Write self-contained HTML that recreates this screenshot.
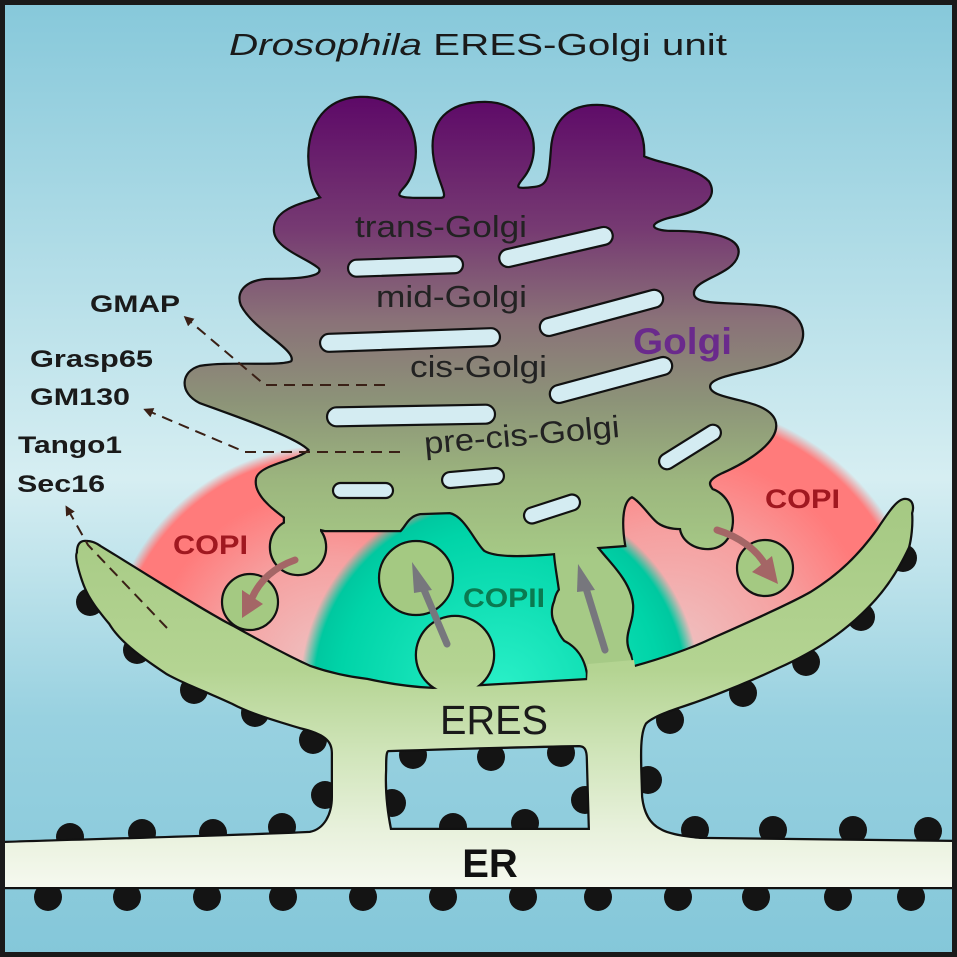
<!DOCTYPE html>
<html><head><meta charset="utf-8"><style>
html,body{margin:0;padding:0;background:#fff}
svg{display:block}
text{font-family:"Liberation Sans",Arial,sans-serif}
</style></head><body>
<svg width="957" height="957" viewBox="0 0 957 957" xmlns="http://www.w3.org/2000/svg">
<defs>
<linearGradient id="bg" x1="0" y1="0" x2="0" y2="957" gradientUnits="userSpaceOnUse">
<stop offset="0" stop-color="#86c8da"/><stop offset="0.5" stop-color="#d6eef2"/><stop offset="0.75" stop-color="#98d1e0"/><stop offset="1" stop-color="#84c7d9"/>
</linearGradient>
<linearGradient id="gg" x1="0" y1="100" x2="0" y2="560" gradientUnits="userSpaceOnUse">
<stop offset="0" stop-color="#5e0a68"/><stop offset="0.28" stop-color="#763a72"/><stop offset="0.48" stop-color="#8a7278"/><stop offset="0.65" stop-color="#8c9278"/><stop offset="0.83" stop-color="#9cb67e"/><stop offset="1" stop-color="#a6ca86"/>
</linearGradient>
<linearGradient id="eg" x1="0" y1="490" x2="0" y2="890" gradientUnits="userSpaceOnUse">
<stop offset="0" stop-color="#a4c882"/><stop offset="0.45" stop-color="#b4d492"/><stop offset="0.65" stop-color="#cfe4b8"/><stop offset="0.85" stop-color="#e8f1dc"/><stop offset="1" stop-color="#f6f9f0"/>
</linearGradient>
<radialGradient id="rl" cx="330" cy="670" r="225" gradientUnits="userSpaceOnUse">
<stop offset="0" stop-color="#eec4c4"/><stop offset="0.5" stop-color="#f6a0a0"/><stop offset="0.8" stop-color="#ff7b7b"/><stop offset="0.95" stop-color="#ff7b7b"/><stop offset="1" stop-color="#ff7b7b" stop-opacity="0"/>
</radialGradient>
<radialGradient id="rr" cx="670" cy="660" r="260" gradientUnits="userSpaceOnUse">
<stop offset="0" stop-color="#eec4c4"/><stop offset="0.5" stop-color="#f6a0a0"/><stop offset="0.8" stop-color="#ff7b7b"/><stop offset="0.95" stop-color="#ff7b7b"/><stop offset="1" stop-color="#ff7b7b" stop-opacity="0"/>
</radialGradient>
<radialGradient id="cy" cx="500" cy="690" r="200" gradientUnits="userSpaceOnUse">
<stop offset="0" stop-color="#2af0c8"/><stop offset="0.8" stop-color="#00d4a8"/><stop offset="0.93" stop-color="#00c8a0"/><stop offset="1" stop-color="#00c8a0" stop-opacity="0"/>
</radialGradient>
<clipPath id="above">
<path d="M0 0 L957 0 L957 500 L905 500 C898 500,890 512,878 530 C860 555,840 575,811 593 C790 605,745 625,711 640 C690 650,660 660,635 667 L590 680 L433 689 C410 688,390 685,367 680 C350 678,330 674,310 667 C290 658,260 642,233 627 C200 610,130 565,100 547 C97 545,93 542,85 542 L0 542 Z"/>
</clipPath>
<marker id="ah" markerWidth="10" markerHeight="10" refX="7" refY="5" orient="auto" markerUnits="userSpaceOnUse"><path d="M0,0 L10,5 L0,10 Z" fill="#3a2016"/></marker>
</defs>

<rect x="0" y="0" width="957" height="957" fill="url(#bg)"/>

<!-- halos -->
<g clip-path="url(#above)">
<circle cx="330" cy="670" r="225" fill="url(#rl)"/>
<circle cx="670" cy="660" r="260" fill="url(#rr)"/>
<circle cx="500" cy="690" r="200" fill="url(#cy)"/>
</g>

<!-- dots -->
<g fill="#141414">
<circle cx="90" cy="602" r="14"/><circle cx="137" cy="650" r="14"/><circle cx="194" cy="690" r="14"/><circle cx="255" cy="713" r="14"/><circle cx="313" cy="740" r="14"/><circle cx="325" cy="795" r="14"/>
<circle cx="70" cy="837" r="14"/><circle cx="142" cy="833" r="14"/><circle cx="213" cy="833" r="14"/><circle cx="282" cy="827" r="14"/>
<circle cx="413" cy="755" r="14"/><circle cx="491" cy="757" r="14"/><circle cx="561" cy="753" r="14"/><circle cx="392" cy="803" r="14"/><circle cx="585" cy="800" r="14"/><circle cx="453" cy="827" r="14"/><circle cx="525" cy="823" r="14"/>
<circle cx="648" cy="780" r="14"/><circle cx="695" cy="830" r="14"/><circle cx="773" cy="830" r="14"/><circle cx="853" cy="830" r="14"/><circle cx="928" cy="831" r="14"/>
<circle cx="670" cy="720" r="14"/><circle cx="743" cy="693" r="14"/><circle cx="806" cy="662" r="14"/><circle cx="861" cy="617" r="14"/><circle cx="903" cy="558" r="14"/>
<circle cx="48" cy="897" r="14"/><circle cx="127" cy="897" r="14"/><circle cx="207" cy="897" r="14"/><circle cx="283" cy="897" r="14"/><circle cx="363" cy="897" r="14"/><circle cx="443" cy="897" r="14"/><circle cx="523" cy="897" r="14"/><circle cx="598" cy="897" r="14"/><circle cx="678" cy="897" r="14"/><circle cx="756" cy="897" r="14"/><circle cx="838" cy="897" r="14"/><circle cx="911" cy="897" r="14"/>
</g>

<g stroke="#111" stroke-width="4.5" fill="#111">
 <path d="M322 198 C302 175,300 100,360 98 C420 96,425 165,402 188 C394 197,398 199,420 199 L440 199 C452 199,440 185,435 160 C428 120,450 103,485 103 C530 103,545 150,522 178 C512 190,518 190,535 188 C550 186,550 175,552 150 C554 118,572 106,597 106 C628 106,645 128,643 157 C660 165,695 168,708 182 C718 198,700 210,672 216 C645 222,648 232,672 232 C710 232,742 238,737 255 C732 275,690 278,693 295 C696 308,735 302,775 308 C805 314,810 340,790 356 C765 372,700 372,710 390 C718 402,765 400,774 420 C782 440,745 462,722 472 C705 480,708 485,712 490 C740 500,738 548,708 548 C692 548,682 538,681 528 C672 528,662 526,656 520 C648 512,640 500,632 496 C622 500,620 520,624 545 L597 547 L555 553 C520 556,495 556,485 550 C475 540,465 515,450 512 L420 513 C408 515,405 525,400 530 L325 530 L292 522 C275 510,255 495,257 480 C258 465,300 462,310 450 C300 438,250 420,200 402 C180 392,182 372,200 367 C230 362,280 368,292 362 C300 350,255 330,242 305 C236 290,250 280,270 280 C300 280,325 278,320 268 C310 258,275 248,275 230 C275 210,300 205,322 198 Z"/>
 <path d="M555 550 L595 545 C605 560,630 580,632 605 C633 625,620 635,630 655 L638 700 L588 700 L588 673 C585 655,575 645,565 640 C552 625,552 600,560 590 C558 575,555 560,555 550 Z"/>
 <circle cx="578" cy="612" r="25"/>
 <circle cx="298" cy="547" r="27"/>
 <rect x="285" y="505" width="35" height="30"/>
 <path d="M85 542 C93 542,97 545,100 547 C130 565,200 610,233 627 C260 642,290 658,310 667 C330 674,350 678,367 680 C390 685,410 688,433 689 L590 680 L635 667 C660 660,690 650,711 640 C745 625,790 605,811 593 C840 575,860 555,878 530 C890 512,898 500,905 500 C912 500,913 507,911 513 C912 525,910 540,908 547 C895 575,880 595,861 613 C835 638,805 655,778 667 C740 685,700 700,678 707 C660 713,650 718,645 723 C638 735,640 760,641 797 C643 815,650 825,660 830 C670 836,690 838,700 839 L952 842 L952 887 L5 887 L5 843 C100 840,250 836,310 833 C325 830,333 815,333 797 L333 753 C333 740,325 733,300 727 C270 718,250 712,233 703 C205 690,185 683,167 673 C140 655,120 640,110 623 C95 605,88 595,83 580 C78 565,76 555,78 553 C78 546,80 542,85 542 Z M388 750 C450 748,520 746,578 745 C585 745,588 748,588 760 L590 830 L390 830 C386 810,384 790,385 770 C385 758,385 751,388 750 Z" fill-rule="evenodd"/>
 <circle cx="455" cy="655" r="38"/>
</g>
<g fill="url(#eg)" stroke="none">
 <path d="M85 542 C93 542,97 545,100 547 C130 565,200 610,233 627 C260 642,290 658,310 667 C330 674,350 678,367 680 C390 685,410 688,433 689 L590 680 L635 667 C660 660,690 650,711 640 C745 625,790 605,811 593 C840 575,860 555,878 530 C890 512,898 500,905 500 C912 500,913 507,911 513 C912 525,910 540,908 547 C895 575,880 595,861 613 C835 638,805 655,778 667 C740 685,700 700,678 707 C660 713,650 718,645 723 C638 735,640 760,641 797 C643 815,650 825,660 830 C670 836,690 838,700 839 L952 842 L952 887 L5 887 L5 843 C100 840,250 836,310 833 C325 830,333 815,333 797 L333 753 C333 740,325 733,300 727 C270 718,250 712,233 703 C205 690,185 683,167 673 C140 655,120 640,110 623 C95 605,88 595,83 580 C78 565,76 555,78 553 C78 546,80 542,85 542 Z M388 750 C450 748,520 746,578 745 C585 745,588 748,588 760 L590 830 L390 830 C386 810,384 790,385 770 C385 758,385 751,388 750 Z" fill-rule="evenodd"/>
 <circle cx="455" cy="655" r="38"/>
</g>
<g fill="url(#gg)" stroke="none">
 <path d="M322 198 C302 175,300 100,360 98 C420 96,425 165,402 188 C394 197,398 199,420 199 L440 199 C452 199,440 185,435 160 C428 120,450 103,485 103 C530 103,545 150,522 178 C512 190,518 190,535 188 C550 186,550 175,552 150 C554 118,572 106,597 106 C628 106,645 128,643 157 C660 165,695 168,708 182 C718 198,700 210,672 216 C645 222,648 232,672 232 C710 232,742 238,737 255 C732 275,690 278,693 295 C696 308,735 302,775 308 C805 314,810 340,790 356 C765 372,700 372,710 390 C718 402,765 400,774 420 C782 440,745 462,722 472 C705 480,708 485,712 490 C740 500,738 548,708 548 C692 548,682 538,681 528 C672 528,662 526,656 520 C648 512,640 500,632 496 C622 500,620 520,624 545 L597 547 L555 553 C520 556,495 556,485 550 C475 540,465 515,450 512 L420 513 C408 515,405 525,400 530 L325 530 L292 522 C275 510,255 495,257 480 C258 465,300 462,310 450 C300 438,250 420,200 402 C180 392,182 372,200 367 C230 362,280 368,292 362 C300 350,255 330,242 305 C236 290,250 280,270 280 C300 280,325 278,320 268 C310 258,275 248,275 230 C275 210,300 205,322 198 Z"/>
 <path d="M555 550 L595 545 C605 560,630 580,632 605 C633 625,620 635,630 655 L634 668 L590 676 L588 673 C585 655,575 645,565 640 C552 625,552 600,560 590 C558 575,555 560,555 550 Z"/>
 <circle cx="578" cy="612" r="25"/>
 <circle cx="298" cy="547" r="27"/>
 <rect x="285" y="505" width="35" height="30"/>
</g>
<path d="M588 664 L634 660 L640 700 L586 700 Z" fill="url(#eg)"/>

<!-- holes -->
<g fill="#d4ecf2" stroke="#111" stroke-width="2.2">
 <rect x="348" y="258" width="115" height="17" rx="8.5" transform="rotate(-2 405 266)"/>
 <rect x="498" y="238" width="116" height="18" rx="9" transform="rotate(-13 556 247)"/>
 <rect x="320" y="331" width="180" height="18" rx="9" transform="rotate(-2 410 340)"/>
 <rect x="538" y="304" width="127" height="18" rx="9" transform="rotate(-15 601 313)"/>
 <rect x="327" y="406" width="168" height="19" rx="9.5" transform="rotate(-1 411 415)"/>
 <rect x="548" y="371" width="126" height="18" rx="9" transform="rotate(-15 611 380)"/>
 <rect x="655" y="439" width="70" height="16" rx="8" transform="rotate(-32 690 447)"/>
 <rect x="333" y="483" width="60" height="15" rx="7.5"/>
 <rect x="442" y="470" width="62" height="16" rx="8" transform="rotate(-5 473 478)"/>
 <rect x="523" y="501" width="58" height="16" rx="8" transform="rotate(-18 552 509)"/>
</g>

<!-- vesicles -->
<g fill="#a4c982" stroke="#111" stroke-width="2.2">
 <circle cx="250" cy="602" r="28"/>
 <circle cx="765" cy="568" r="28"/>
 <circle cx="416" cy="578" r="37"/>
</g>

<!-- arrows -->
<g stroke="#77777d" stroke-width="7" fill="none" stroke-linecap="round">
 <line x1="447" y1="644" x2="422" y2="585"/>
 <line x1="605" y1="650" x2="585" y2="585"/>
</g>
<g fill="#77777d">
 <path d="M412 562 L432 590 L414 593 Z"/>
 <path d="M578 564 L595 590 L577 592 Z"/>
</g>
<g stroke="#a46666" stroke-width="7" fill="none" stroke-linecap="round">
 <path d="M295 560 C275 567,260 580,252 598"/>
 <path d="M717 530 C740 537,757 550,766 566"/>
</g>
<g fill="#a46666">
 <path d="M242 618 L242 590 L263 604 Z"/>
 <path d="M778 584 L752 572 L772 556 Z"/>
</g>

<!-- dashed annotation lines -->
<g stroke="#3a2016" stroke-width="2" fill="none" stroke-dasharray="11 7">
 <path d="M385 385 L265 385 L186 318" marker-end="url(#ah)"/>
 <path d="M400 452 L245 452 L146 410" marker-end="url(#ah)"/>
 <path d="M167 628 L88 545 L67 508" marker-end="url(#ah)"/>
</g>

<!-- texts -->
<text x="478" y="55" text-anchor="middle" font-size="31" fill="#1a1a1a" textLength="498" lengthAdjust="spacingAndGlyphs"><tspan font-style="italic">Drosophila</tspan> ERES-Golgi unit</text>
<g fill="#222" font-size="31">
 <text x="355" y="237" textLength="172" lengthAdjust="spacingAndGlyphs">trans-Golgi</text>
 <text x="376" y="307" textLength="151" lengthAdjust="spacingAndGlyphs">mid-Golgi</text>
 <text x="410" y="377" textLength="137" lengthAdjust="spacingAndGlyphs">cis-Golgi</text>
 <text x="425" y="454" textLength="196" lengthAdjust="spacingAndGlyphs" transform="rotate(-5 425 454)">pre-cis-Golgi</text>
</g>
<text x="633" y="354" font-size="37" font-weight="bold" fill="#6a2a8c" textLength="99" lengthAdjust="spacingAndGlyphs">Golgi</text>
<g font-weight="bold" fill="#1a1a1a" font-size="24">
 <text x="90" y="312" textLength="90" lengthAdjust="spacingAndGlyphs">GMAP</text>
 <text x="30" y="367" textLength="123" lengthAdjust="spacingAndGlyphs">Grasp65</text>
 <text x="30" y="405" textLength="100" lengthAdjust="spacingAndGlyphs">GM130</text>
 <text x="18" y="453" textLength="104" lengthAdjust="spacingAndGlyphs">Tango1</text>
 <text x="17" y="492" textLength="88" lengthAdjust="spacingAndGlyphs">Sec16</text>
</g>
<g font-weight="bold" font-size="27">
 <text x="173" y="554" fill="#a01820" textLength="75" lengthAdjust="spacingAndGlyphs">COPI</text>
 <text x="765" y="508" fill="#a01820" textLength="75" lengthAdjust="spacingAndGlyphs">COPI</text>
 <text x="463" y="607" fill="#0a7a50" textLength="82" lengthAdjust="spacingAndGlyphs">COPII</text>
</g>
<text x="440" y="734" font-size="41" fill="#1a1a1a" textLength="108" lengthAdjust="spacingAndGlyphs">ERES</text>
<text x="490" y="877" font-size="40" font-weight="bold" fill="#111" text-anchor="middle">ER</text>

<rect x="2.5" y="2.5" width="952" height="952" fill="none" stroke="#1a1a1a" stroke-width="5"/>
</svg>
</body></html>
